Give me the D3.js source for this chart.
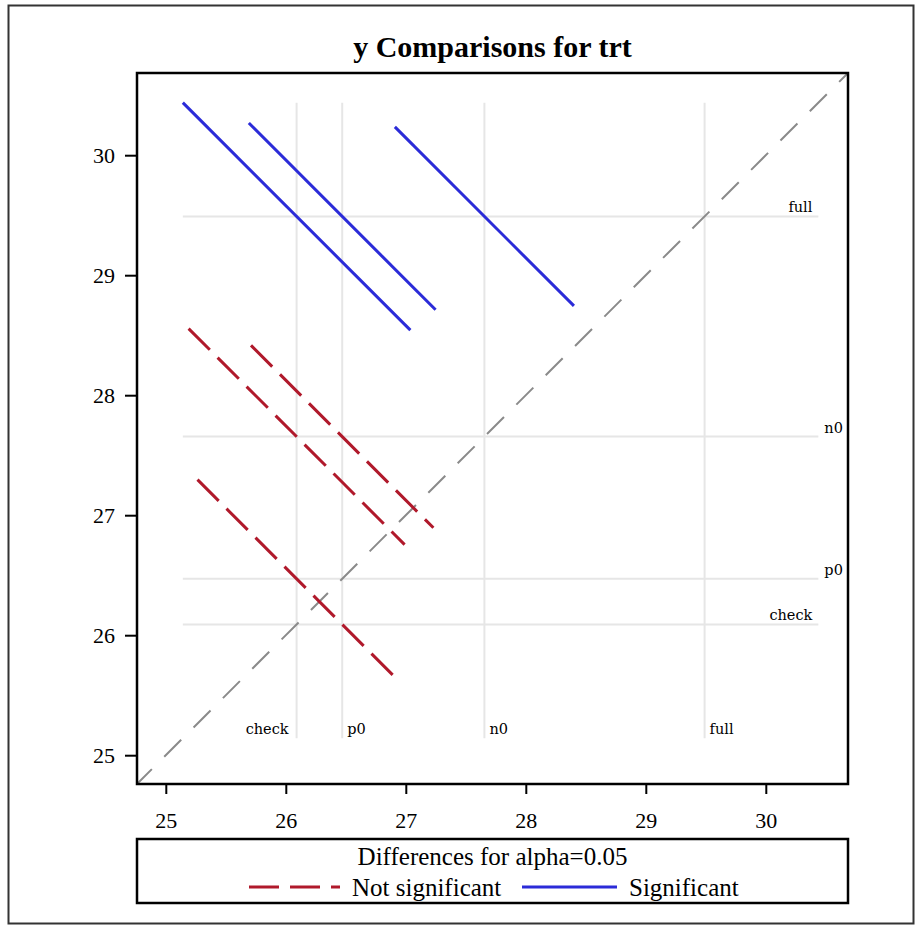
<!DOCTYPE html>
<html>
<head>
<meta charset="utf-8">
<script src="https://cdn.jsdelivr.net/npm/d3@7/dist/d3.min.js"></script>
<style>
    body { margin: 0; background: #ffffff; }
    text { font-family: "Liberation Serif", "Times New Roman", serif; fill: #000000; }
    .tick text { font-size: 22px; }
    .ref-label { font-family: "DejaVu Serif", serif; font-size: 14.5px; }
</style>
</head>
<body>
<svg id="diffogram" width="919" height="925"></svg>
<script>
// LS-means of y for each level of trt
const TRT_LEVELS = ["check", "p0", "n0", "full"];
const LSMEANS = [26.09, 26.47, 27.655, 29.49];

// Pairwise differences (first level on x, second on y) and CI half widths (alpha=0.05)
const PAIR_FIRST = ["check", "check", "check", "p0", "p0", "n0"];
const PAIR_SECOND = ["p0", "n0", "full", "n0", "full", "full"];
const CI_HALF_WIDTHS = [1.652, 1.80, 1.896, 1.52, 1.556, 1.492];

const AXIS_TICKS = [25, 26, 27, 28, 29, 30];
const AXIS_RANGE = [24.76, 30.685];

const TITLE = "y Comparisons for trt";
const LEGEND_TITLE = "Differences for alpha=0.05";
const LEGEND_LABELS = ["Not significant", "Significant"];

// where each reference label sits relative to its line
const BOTTOM_LABEL_SIDE = {"check": "left", "p0": "right", "n0": "right", "full": "right"};
const RIGHT_LABEL_SIDE = {"check": "inside", "p0": "outside", "n0": "outside", "full": "inside"};

const COLORS = {"sig": "#2b2bd8", "nonsig": "#b0192b", "diag": "#8a8a8a", "grid": "#e6e6e6"};

const svg = d3.select("#diffogram");

const plotLeft = 137, plotRight = 848, plotTop = 73, plotBottom = 784;

const x = d3.scaleLinear().domain(AXIS_RANGE).range([plotLeft, plotRight]);
const y = d3.scaleLinear().domain(AXIS_RANGE).range([plotBottom, plotTop]);

const meanOf = new Map(TRT_LEVELS.map((lvl, i) => [lvl, LSMEANS[i]]));

const segments = PAIR_FIRST.map((first, i) => {
    const mx = meanOf.get(first);
    const my = meanOf.get(PAIR_SECOND[i]);
    const h = CI_HALF_WIDTHS[i] / 2;
    return {
        "first": first,
        "second": PAIR_SECOND[i],
        "x1": mx - h, "y1": my + h,
        "x2": mx + h, "y2": my - h,
        "significant": Math.abs(my - mx) > CI_HALF_WIDTHS[i]
    };
});

// reference lines run over the span of all segment endpoints
const allEnds = segments.flatMap((s) => [s.x1, s.x2, s.y1, s.y2]);
const refMin = d3.min(allEnds);
const refMax = d3.max(allEnds);

// outer border
svg.append("rect")
    .attr("x", 8.5).attr("y", 5.5)
    .attr("width", 905).attr("height", 918)
    .attr("fill", "none")
    .attr("stroke", "#333333")
    .attr("stroke-width", 2);

// title
svg.append("text")
    .attr("x", (plotLeft + plotRight) / 2)
    .attr("y", 57)
    .attr("text-anchor", "middle")
    .style("font-size", "30px")
    .style("font-weight", "bold")
    .text(TITLE);

svg.append("clipPath")
    .attr("id", "plot-clip")
    .append("rect")
    .attr("x", plotLeft).attr("y", plotTop)
    .attr("width", plotRight - plotLeft).attr("height", plotBottom - plotTop);

const plot = svg.append("g").attr("clip-path", "url(#plot-clip)");

// reference grid at each LS-mean
plot.selectAll(".vref")
    .data(TRT_LEVELS)
    .enter()
    .append("line")
    .classed("vref", true)
    .attr("x1", (d) => x(meanOf.get(d)))
    .attr("x2", (d) => x(meanOf.get(d)))
    .attr("y1", y(refMin))
    .attr("y2", y(refMax))
    .attr("stroke", COLORS.grid)
    .attr("stroke-width", 2);

plot.selectAll(".href")
    .data(TRT_LEVELS)
    .enter()
    .append("line")
    .classed("href", true)
    .attr("y1", (d) => y(meanOf.get(d)))
    .attr("y2", (d) => y(meanOf.get(d)))
    .attr("x1", x(refMin))
    .attr("x2", x(refMax))
    .attr("stroke", COLORS.grid)
    .attr("stroke-width", 2);

// reference labels
svg.selectAll(".bottom-label")
    .data(TRT_LEVELS)
    .enter()
    .append("text")
    .classed("ref-label", true)
    .attr("x", (d) => x(meanOf.get(d)) + (BOTTOM_LABEL_SIDE[d] === "left" ? -8 : 5))
    .attr("y", y(refMin) - 4)
    .attr("text-anchor", (d) => BOTTOM_LABEL_SIDE[d] === "left" ? "end" : "start")
    .text((d) => d);

svg.selectAll(".right-label")
    .data(TRT_LEVELS)
    .enter()
    .append("text")
    .classed("ref-label", true)
    .attr("x", (d) => x(refMax) + (RIGHT_LABEL_SIDE[d] === "inside" ? -6 : 6))
    .attr("y", (d) => y(meanOf.get(d)) - 4)
    .attr("text-anchor", (d) => RIGHT_LABEL_SIDE[d] === "inside" ? "end" : "start")
    .text((d) => d);

// diagonal y = x
plot.append("line")
    .attr("x1", x(AXIS_RANGE[0])).attr("y1", y(AXIS_RANGE[0]))
    .attr("x2", x(AXIS_RANGE[1])).attr("y2", y(AXIS_RANGE[1]))
    .attr("stroke", COLORS.diag)
    .attr("stroke-width", 2)
    .attr("stroke-dasharray", "24,17.5")
    .attr("stroke-dashoffset", 3);

// difference segments
plot.selectAll(".diff")
    .data(segments)
    .enter()
    .append("line")
    .classed("diff", true)
    .attr("x1", (d) => x(d.x1)).attr("y1", (d) => y(d.y1))
    .attr("x2", (d) => x(d.x2)).attr("y2", (d) => y(d.y2))
    .attr("stroke", (d) => d.significant ? COLORS.sig : COLORS.nonsig)
    .attr("stroke-width", 3)
    .attr("stroke-dasharray", (d) => d.significant ? null : "30,11");

// axes
const xAxis = svg.append("g")
    .attr("transform", "translate(0," + plotBottom + ")")
    .call(d3.axisBottom(x).tickValues(AXIS_TICKS).tickFormat(d3.format("d")).tickSize(10).tickPadding(18));

const yAxis = svg.append("g")
    .attr("transform", "translate(" + plotLeft + ",0)")
    .call(d3.axisLeft(y).tickValues(AXIS_TICKS).tickFormat(d3.format("d")).tickSize(12).tickPadding(10));

[xAxis, yAxis].forEach((g) => {
    g.select(".domain").remove();
    g.selectAll(".tick line").attr("stroke", "#000").attr("stroke-width", 2);
});

// frame
svg.append("rect")
    .attr("x", plotLeft).attr("y", plotTop)
    .attr("width", plotRight - plotLeft).attr("height", plotBottom - plotTop)
    .attr("fill", "none")
    .attr("stroke", "#000")
    .attr("stroke-width", 2.5);

// legend
const legend = svg.append("g");

legend.append("rect")
    .attr("x", plotLeft).attr("y", 839)
    .attr("width", plotRight - plotLeft).attr("height", 64)
    .attr("fill", "none")
    .attr("stroke", "#000")
    .attr("stroke-width", 2.5);

legend.append("text")
    .attr("x", (plotLeft + plotRight) / 2)
    .attr("y", 865)
    .attr("text-anchor", "middle")
    .style("font-size", "25px")
    .text(LEGEND_TITLE);

const legendItems = [
    {"label": LEGEND_LABELS[0], "color": COLORS.nonsig, "dash": "30,11", "x": 249, "w": 91},
    {"label": LEGEND_LABELS[1], "color": COLORS.sig, "dash": null, "x": 522, "w": 95}
];

const item = legend.selectAll(".legend-item")
    .data(legendItems)
    .enter()
    .append("g")
    .classed("legend-item", true)
    .attr("transform", (d) => "translate(" + d.x + " 887)");

item.append("line")
    .attr("x1", 0).attr("x2", (d) => d.w)
    .attr("y1", 0).attr("y2", 0)
    .attr("stroke", (d) => d.color)
    .attr("stroke-width", 3)
    .attr("stroke-dasharray", (d) => d.dash);

item.append("text")
    .attr("x", (d) => d.w + 12)
    .attr("y", 9)
    .style("font-size", "25px")
    .text((d) => d.label);
</script>
</body>
</html>
